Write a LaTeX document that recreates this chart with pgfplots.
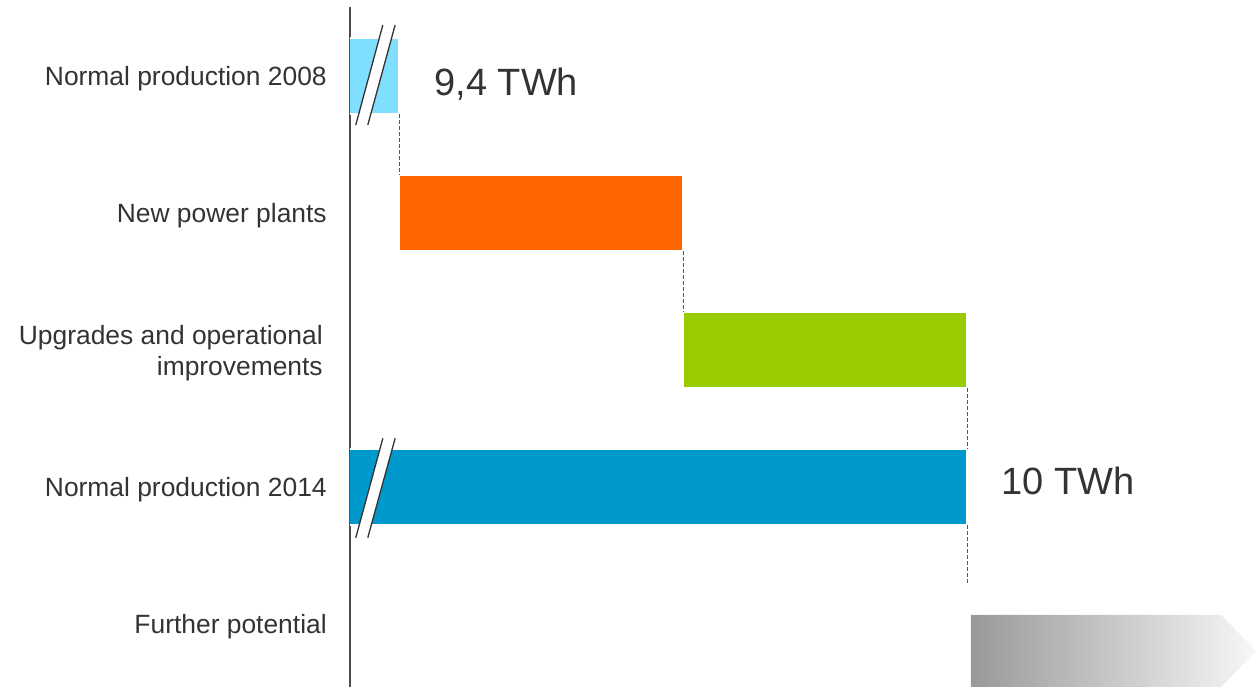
\documentclass[border=0pt]{standalone}
\usepackage{pgfplots}
\pgfplotsset{compat=1.18}
\usepackage{fontspec}
\setmainfont{Liberation Sans}

\definecolor{txt}{HTML}{333333}
\definecolor{c2008}{HTML}{80DFFF}
\definecolor{cnew}{HTML}{FF6600}
\definecolor{cupg}{HTML}{99CC00}
\definecolor{c2014}{HTML}{0099CC}
\definecolor{axisgray}{HTML}{4D4D4D}
\definecolor{dashgray}{HTML}{555555}

% half height of a bar, in row units
\def\hb{0.2774}

\begin{document}
\begin{tikzpicture}
\begin{axis}[
  at={(0,0)}, anchor=south west,
  scale only axis, width=453bp, height=340bp,
  xmin=9.3479, xmax=10.3056,
  ymin=-0.5036, ymax=4.4599, y dir=reverse,
  axis x line=none, axis y line=left,
  axis line style={-, draw=axisgray, line width=1bp},
  xtick=\empty,
  ytick={0,1,2,3,4},
  yticklabels={Normal production 2008, New power plants,
    {Upgrades and operational\hspace*{2bp}\\improvements\hspace*{2bp}},
    Normal production 2014, Further potential},
  major tick length=0pt,
  yticklabel style={font=\fontsize{13.2bp}{15.5bp}\selectfont, text=txt,
    align=right, inner sep=0pt, yshift=-1.5bp},
  yticklabel shift=11.5bp,
  clip=true,
]
% waterfall bars (TWh): start and end of each step
\addplot[fill=c2008, draw=white, line width=1bp]
  coordinates {(0,-\hb) (9.4,-\hb) (9.4,\hb) (0,\hb)} -- cycle;
\addplot[fill=cnew, draw=white, line width=1bp]
  coordinates {(9.4,1-\hb) (9.7,1-\hb) (9.7,1+\hb) (9.4,1+\hb)} -- cycle;
\addplot[fill=cupg, draw=white, line width=1bp]
  coordinates {(9.7,2-\hb) (10.0,2-\hb) (10.0,2+\hb) (9.7,2+\hb)} -- cycle;
\addplot[fill=c2014, draw=white, line width=1bp]
  coordinates {(0,3-\hb) (10.0,3-\hb) (10.0,3+\hb) (0,3+\hb)} -- cycle;

% further potential: shaded arrow
\addplot[draw=none, left color=black!40, right color=black!3]
  coordinates {(10.004,3.934) (10.2686,3.934) (10.3056,4.197)
               (10.2686,4.4599) (10.004,4.4599)} -- cycle;

% dashed connectors between steps
\addplot[dashgray, line width=0.5bp, dash pattern=on 2bp off 1bp]
  coordinates {(9.4,\hb) (9.4,1-\hb)};
\addplot[dashgray, line width=0.5bp, dash pattern=on 2bp off 1bp]
  coordinates {(9.7,1+\hb) (9.7,2-\hb)};
\addplot[dashgray, line width=0.5bp, dash pattern=on 2bp off 1bp]
  coordinates {(10.0,2+\hb) (10.0,3-\hb)};
\addplot[dashgray, line width=0.5bp, dash pattern=on 2bp off 1bp]
  coordinates {(10.0,3+\hb) (10.0,3.70)};

% axis break marks
\addplot[fill=white, draw=none]
  coordinates {(9.3539,0.3577) (9.3825,-0.3723) (9.3955,-0.3723) (9.3666,0.3577)} -- cycle;
\addplot[txt, line width=0.65bp] coordinates {(9.3539,0.3577) (9.3825,-0.3723)};
\addplot[txt, line width=0.65bp] coordinates {(9.3666,0.3577) (9.3955,-0.3723)};
\addplot[fill=white, draw=none]
  coordinates {(9.3539,3.370) (9.3825,2.6445) (9.3955,2.6445) (9.3666,3.370)} -- cycle;
\addplot[txt, line width=0.65bp] coordinates {(9.3539,3.370) (9.3825,2.6445)};
\addplot[txt, line width=0.65bp] coordinates {(9.3666,3.370) (9.3955,2.6445)};

% totals
\node[anchor=base west, inner sep=0pt, text=txt,
  font=\fontsize{19bp}{22bp}\selectfont] at (axis cs:9.4367,0.139) {9,4 TWh};
\node[anchor=base west, inner sep=0pt, text=txt,
  font=\fontsize{19bp}{22bp}\selectfont] at (axis cs:10.036,3.058) {10 TWh};
\end{axis}
\pgfresetboundingbox
\path (-175bp,0) rectangle (453bp,343.5bp);
\end{tikzpicture}
\end{document}
